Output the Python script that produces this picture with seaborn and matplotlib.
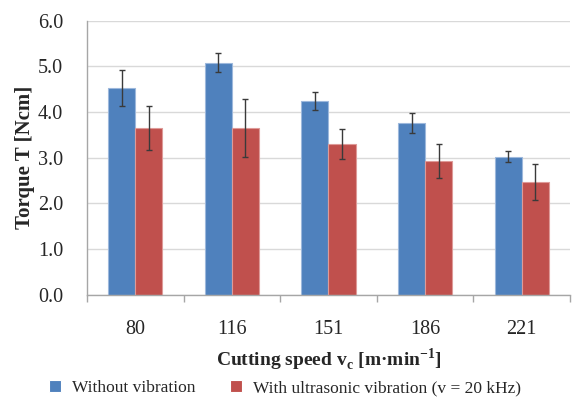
import pandas as pd
import matplotlib.pyplot as plt
import seaborn as sns

# Values
speeds = ['80', '116', '151', '186', '221']
torque_a = [4.53, 5.08, 4.24, 3.76, 3.02]
err_a = [0.39, 0.21, 0.20, 0.22, 0.12]
torque_b = [3.65, 3.65, 3.30, 2.93, 2.47]
err_b = [0.48, 0.63, 0.33, 0.38, 0.40]
series_names = ['Without vibration', 'With ultrasonic vibration (v = 20 kHz)']

df = pd.DataFrame({
    'speed': speeds * 2,
    'torque': torque_a + torque_b,
    'err': err_a + err_b,
    'series': [series_names[0]] * 5 + [series_names[1]] * 5,
})

sns.set_style('white')
plt.rcParams['font.family'] = ['Liberation Serif', 'DejaVu Serif']

fig, ax = plt.subplots(figsize=(5.72, 4.01), dpi=100)
fig.subplots_adjust(left=0.152, right=0.9965, top=0.948, bottom=0.265)

sns.barplot(data=df, x='speed', y='torque', hue='series', order=speeds,
            hue_order=series_names, palette=['#4F81BD', '#C0504D'],
            width=0.56, errorbar=None, saturation=1, ax=ax,
            linewidth=0.8, zorder=2)

# light outline on the bars, as in the original
for bars, edge in zip(ax.containers, ['#9DB8DC', '#DE9A98']):
    for b in bars:
        b.set_edgecolor(edge)

# error bars drawn at the bar centres
for bars, errs in zip(ax.containers, [err_a, err_b]):
    xs = [b.get_x() + b.get_width() / 2 for b in bars]
    ys = [b.get_height() for b in bars]
    ax.errorbar(xs, ys, yerr=errs, fmt='none', ecolor='#3A3A3A',
                elinewidth=1, capsize=2.5, capthick=1, zorder=3)

ax.set_xlim(-0.5, len(speeds) - 0.5)
ax.set_ylim(0, 6)
ax.set_yticks([0, 1, 2, 3, 4, 5, 6])
ax.set_yticklabels([f'{v:.1f}' for v in range(7)])
ax.yaxis.grid(True, color='#D9D9D9', linewidth=1, zorder=0)
ax.set_axisbelow(True)
ax.tick_params(axis='y', labelsize=14.5, length=0, pad=17)
ax.tick_params(axis='x', which='major', labelsize=14.5, length=0, pad=18)
# category separator ticks on the x axis
ax.set_xticks([i - 0.5 for i in range(len(speeds) + 1)], minor=True)
ax.tick_params(axis='x', which='minor', length=5, width=1, color='#A6A6A6',
               direction='out', bottom=True)
for side in ['top', 'right']:
    ax.spines[side].set_visible(False)
for side in ['left', 'bottom']:
    ax.spines[side].set_color('#A6A6A6')
    ax.spines[side].set_linewidth(1)

ax.set_ylabel('Torque T [Ncm]', fontsize=15, fontweight='bold', labelpad=2)
ax.set_xlabel('Cutting speed v$_\\mathregular{c}$ [m·min$^{\\mathregular{-1}}$]',
              fontsize=14, fontweight='bold')
ax.xaxis.set_label_coords(0.5, -0.19)

ax.legend(loc='upper center', bbox_to_anchor=(0.41, -0.312), ncol=2,
          frameon=False, fontsize=12.5, handlelength=0.7, handleheight=0.7,
          columnspacing=2.0, handletextpad=0.6, borderaxespad=0, borderpad=0)

plt.savefig('out.png', dpi=100)
plt.close()
